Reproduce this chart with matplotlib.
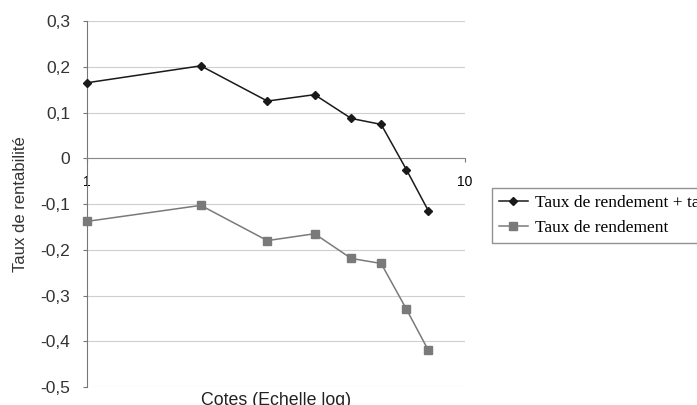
import matplotlib.pyplot as plt
from matplotlib.ticker import FixedLocator, NullLocator

# valeurs
cotes = [1, 2, 3, 4, 5, 6, 7, 8]
rendement_plus = [0.165, 0.202, 0.125, 0.139, 0.087, 0.074, -0.025, -0.115]
rendement = [-0.138, -0.103, -0.180, -0.165, -0.219, -0.230, -0.330, -0.420]
yticks = [0.3, 0.2, 0.1, 0, -0.1, -0.2, -0.3, -0.4, -0.5]
ylabels = ["0,3", "0,2", "0,1", "0", "-0,1", "-0,2", "-0,3", "-0,4", "-0,5"]

plt.rcParams["font.family"] = ["Liberation Sans", "DejaVu Sans"]

fig = plt.figure(figsize=(6.97, 4.05), dpi=100)
ax = fig.add_axes([87 / 697, 1 - 387 / 405, (465 - 87) / 697, (387 - 21) / 405])

ax.plot(cotes, rendement_plus, color="#1a1a1a", lw=1.1, marker="D", ms=4,
        label="Taux de rendement + taux de prélèvement", clip_on=False, zorder=3)
ax.plot(cotes, rendement, color="#7a7a7a", lw=1.1, marker="s", ms=5.5,
        label="Taux de rendement", clip_on=False, zorder=3)

ax.set_xscale("log")
ax.set_xlim(1, 10)
ax.set_ylim(-0.5, 0.3)

ax.set_yticks(yticks)
ax.set_yticklabels(ylabels, fontsize=12.5, color="#333333")
ax.yaxis.grid(True, color="#cfcfcf", lw=0.8)
ax.set_axisbelow(True)
ax.tick_params(axis="y", length=3, color="#777777", pad=9)

ax.xaxis.set_major_locator(FixedLocator([1, 10]))
ax.xaxis.set_minor_locator(NullLocator())
ax.set_xticklabels(["1", "10"], fontsize=10, color="#222222")
ax.spines["bottom"].set_position(("data", 0))
ax.spines["bottom"].set_color("#8a8a8a")
ax.tick_params(axis="x", length=3, color="#777777", pad=9)
for s in ["top", "right"]:
    ax.spines[s].set_visible(False)
ax.spines["left"].set_color("#777777")

ax.set_ylabel("Taux de rentabilité", fontsize=12, color="#333333", labelpad=9)
ax.text(0.5, -0.014, "Cotes (Echelle log)", transform=ax.transAxes,
        ha="center", va="top", fontsize=12.8, color="#222222")

fig.legend(loc="upper left", bbox_to_anchor=(492 / 697, 1 - 188 / 405),
           prop={"family": "Liberation Serif", "size": 12.5},
           frameon=True, fancybox=False, edgecolor="#777777",
           handlelength=1.7, handletextpad=0.4, labelspacing=0.55,
           borderpad=0.38, borderaxespad=0)

fig.savefig("out.png", dpi=100)
